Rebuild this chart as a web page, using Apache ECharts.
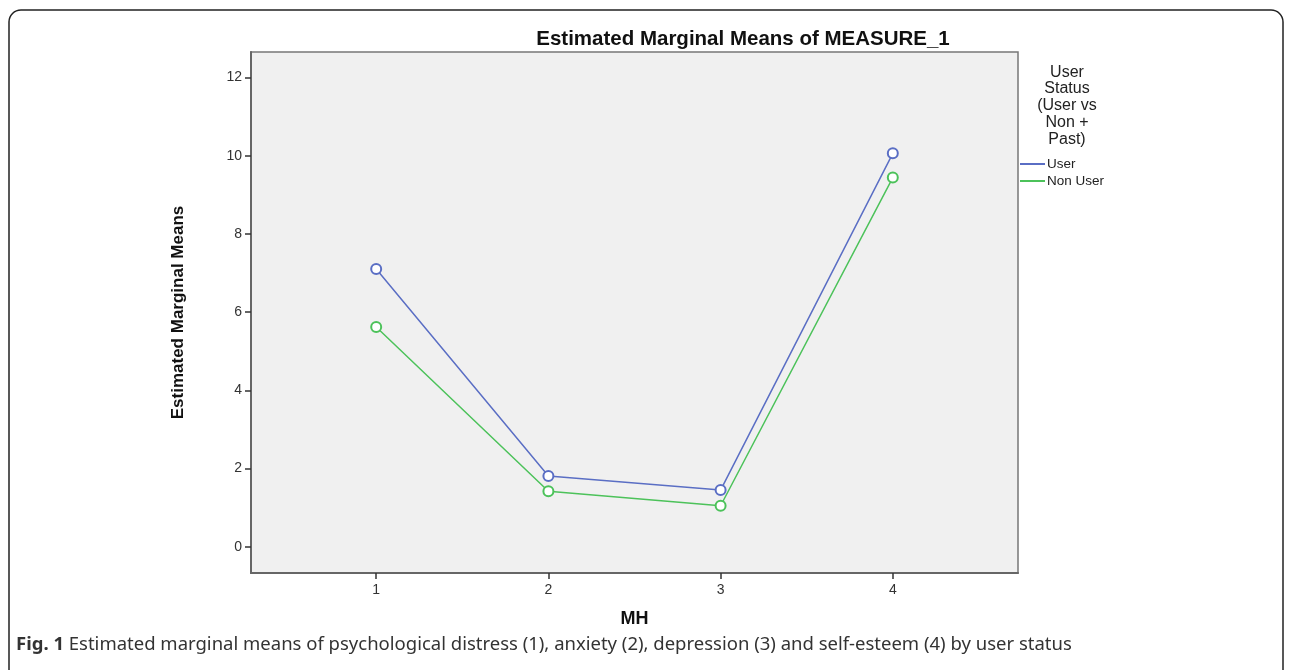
<!DOCTYPE html>
<html>
<head>
<meta charset="utf-8">
<script src="https://cdn.jsdelivr.net/npm/echarts@6/dist/echarts.min.js"></script>
<style>html,body{margin:0;padding:0;background:#fff}#c{width:1292px;height:670px}</style>
</head>
<body>
<div id="c"></div>
<script>
const categories = [1, 2, 3, 4];
const userValues = [7.10, 1.81, 1.45, 10.06];
const nonUserValues = [5.62, 1.42, 1.05, 9.44];
const yTicks = [0, 2, 4, 6, 8, 10, 12];
const seriesNames = ['User', 'Non User'];

const chart = echarts.init(document.getElementById('c'));
const pairs = vals => categories.map((c, i) => [c, vals[i]]);
const axisFont = {fontFamily: 'Arial, Liberation Sans', fontSize: 14, color: '#333'};

chart.setOption({
  animation: false,
  backgroundColor: '#fff',
  title: [
    {text: 'Estimated Marginal Means of MEASURE_1', left: 738, top: 24, textAlign: 'center',
     textStyle: {fontFamily: 'Arial, Liberation Sans', fontWeight: 'bold', fontSize: 20.5, color: '#111'}},
    {text: 'User\nStatus\n(User vs\nNon +\nPast)', left: 1062, top: 59, textAlign: 'center',
     textStyle: {fontFamily: 'Arial, Liberation Sans', fontWeight: 'normal', fontSize: 16, lineHeight: 16.7, color: '#222'}},
    {text: '{b|Fig. 1} Estimated marginal means of psychological distress (1), anxiety (2), depression (3) and self-esteem (4) by user status',
     left: 11, top: 630,
     textStyle: {fontFamily: 'Noto Sans', fontWeight: 'normal', fontSize: 18.5, color: '#333',
       rich: {b: {fontFamily: 'Noto Sans', fontWeight: 'bold', fontSize: 18.5, color: '#333'}}}}
  ],
  legend: {
    orient: 'vertical', left: 1015, top: 152, itemGap: 3,
    icon: 'rect', itemWidth: 25, itemHeight: 2,
    data: seriesNames,
    textStyle: {fontFamily: 'Arial, Liberation Sans', fontSize: 13.5, color: '#222', padding: [0, 0, 0, -3]}
  },
  grid: {left: 251, top: 52, right: 274, bottom: 97, show: true, backgroundColor: '#f0f0f0',
         borderColor: '#777', borderWidth: 1.5},
  xAxis: {
    type: 'value', min: 0.273, max: 4.727,
    name: 'MH', nameLocation: 'middle', nameGap: 37,
    nameTextStyle: {fontFamily: 'Arial, Liberation Sans', fontWeight: 'bold', fontSize: 18, color: '#111'},
    splitLine: {show: false},
    axisLine: {show: true, onZero: false, lineStyle: {color: '#666', width: 2}},
    axisTick: {show: true, length: 6, customValues: categories, lineStyle: {color: '#333', width: 1.5}},
    axisLabel: Object.assign({customValues: categories, margin: 10}, axisFont)
  },
  yAxis: {
    type: 'value', min: -0.67, max: 12.65,
    name: 'Estimated Marginal Means', nameLocation: 'middle', nameGap: 64, nameRotate: 90,
    nameTextStyle: {fontFamily: 'Arial, Liberation Sans', fontWeight: 'bold', fontSize: 17, color: '#111'},
    splitLine: {show: false},
    axisLine: {show: true, onZero: false, lineStyle: {color: '#666', width: 2}},
    axisTick: {show: true, length: 6, customValues: yTicks, lineStyle: {color: '#333', width: 1.5}},
    axisLabel: Object.assign({customValues: yTicks, margin: 9}, axisFont)
  },
  series: [
    {name: seriesNames[0], type: 'line', data: pairs(userValues), symbol: 'emptyCircle', symbolSize: 10,
     color: '#5a6ec4', lineStyle: {width: 1.5, color: '#5a6ec4'}, itemStyle: {borderWidth: 1.5, color: '#5a6ec4'}},
    {name: seriesNames[1], type: 'line', data: pairs(nonUserValues), symbol: 'emptyCircle', symbolSize: 10,
     color: '#4cc25a', lineStyle: {width: 1.5, color: '#4cc25a'}, itemStyle: {borderWidth: 1.5, color: '#4cc25a'}}
  ],
  graphic: [
    {type: 'rect', shape: {x: 9, y: 10, width: 1274, height: 700, r: 12},
     style: {fill: 'none', stroke: '#222', lineWidth: 1.5}, silent: true}
  ]
});
</script>
</body>
</html>
